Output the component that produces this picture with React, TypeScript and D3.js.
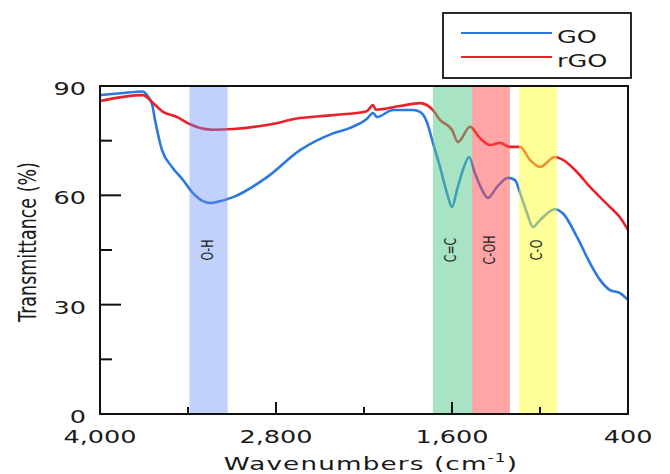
import React, { useRef, useEffect } from "react";
import * as d3 from "d3";

// wavenumber (cm-1) / transmittance (%)
const goWave = [4000, 3860, 3707, 3680, 3645, 3625, 3577, 3509, 3434, 3366, 3298, 3250, 3200, 3093, 2861, 2636, 2411, 2295, 2180, 2139, 2111, 2002, 1866, 1818, 1770, 1730, 1682, 1634, 1600, 1566, 1525, 1484, 1443, 1395, 1355, 1293, 1218, 1170, 1136, 1089, 1048, 1000, 898, 843, 748, 659, 591, 523, 455, 400];
const goT = [87.5, 88.0, 88.5, 87.5, 85, 80.7, 72.4, 67.8, 64.2, 60.6, 58.4, 57.9, 58.2, 59.5, 65, 72.4, 77, 78.5, 81, 82.6, 81.5, 83.4, 83.4, 82.9, 80, 74.4, 67.8, 60.6, 56.8, 61.5, 67, 70.5, 66, 61.5, 59.3, 62.3, 64.8, 64.2, 60.6, 55.2, 51.3, 53.2, 56.2, 55, 48.6, 41.4, 36.8, 34, 33.2, 31.3];

const rgoWave = [4000, 3707, 3645, 3570, 3475, 3386, 3300, 3230, 3093, 2861, 2636, 2411, 2180, 2139, 2120, 1955, 1818, 1730, 1682, 1600, 1559, 1477, 1409, 1341, 1273, 1205, 1136, 1068, 1000, 898, 843, 748, 659, 591, 523, 455, 400];
const rgoT = [85.9, 87.5, 85.6, 82.9, 81.5, 79.5, 78.3, 78, 78.2, 79.3, 81.2, 82, 83.1, 84.8, 83.5, 84.5, 85.3, 83.4, 80.7, 78, 74.6, 78.8, 75.7, 73.8, 74.4, 73.3, 73.3, 69.7, 67.8, 70.5, 69.7, 66.4, 62.3, 59.5, 56.8, 54, 50.5];

// highlighted absorption bands
const bandNames = ["O-H", "C=C", "C-OH", "C-O"];
const bandFrom = [3390, 1730, 1464, 1143];
const bandTo = [3130, 1464, 1205, 884];
const bandColors = ["rgb(100,140,245)", "rgb(81,201,137)", "rgb(255,75,75)", "rgb(255,255,51)"];

const xMajor = [4000, 2800, 1600, 400];
const xMinor = [3400, 2200, 1000];
const yMajor = [0, 30, 60, 90];
const yMinor = [15, 45, 75];

const seriesNames = ["GO", "rGO"];
const seriesColors = ["#2b78e0", "#e8212b"];

const SX = 1.42; // the picture is stretched sideways
const FONT = "DejaVu Sans, Verdana, sans-serif";

const App = () => {
  const svgRef = useRef<SVGSVGElement>(null);

  const width = 670;
  const height = 474;
  const left = 100;
  const right = 628;
  const top = 86;
  const bottom = 414;

  useEffect(() => {
    const svg = d3.select(svgRef.current);
    svg.selectAll("*").remove();

    const x = d3.scaleLinear().domain([4000, 400]).range([left, right]);
    const y = d3.scaleLinear().domain([0, 90]).range([bottom, top]);

    const line = d3.line<[number, number]>()
      .x(d => x(d[0]))
      .y(d => y(d[1]))
      .curve(d3.curveMonotoneX);

    const goData: [number, number][] = goWave.map((w, i) => [w, goT[i]]);
    const rgoData: [number, number][] = rgoWave.map((w, i) => [w, rgoT[i]]);

    const plot = svg.append("g");

    [goData, rgoData].forEach((d, i) => {
      plot.append("path")
        .attr("d", line(d))
        .attr("fill", "none")
        .attr("stroke", seriesColors[i])
        .attr("stroke-width", 2.6)
        .attr("stroke-linejoin", "round");
    });

    // bands on top, semi transparent
    bandNames.forEach((name, i) => {
      const x0 = x(bandFrom[i]);
      const x1 = x(bandTo[i]);
      plot.append("rect")
        .attr("x", x0)
        .attr("y", top)
        .attr("width", x1 - x0)
        .attr("height", bottom - top)
        .attr("fill", bandColors[i])
        .attr("opacity", 0.4 + (i > 0 ? 0.1 : 0));
      const cx = (x0 + x1) / 2 + 4;
      plot.append("text")
        .attr("transform", `translate(${cx},250) rotate(-90) scale(1,${SX})`)
        .attr("text-anchor", "middle")
        .attr("font-family", FONT)
        .attr("font-size", 11)
        .attr("fill", "#222")
        .text(name);
    });

    // frame
    svg.append("rect")
      .attr("x", left)
      .attr("y", top)
      .attr("width", right - left)
      .attr("height", bottom - top)
      .attr("fill", "none")
      .attr("stroke", "#111")
      .attr("stroke-width", 2);

    const ticks = svg.append("g").attr("stroke", "#111").attr("stroke-width", 2);
    xMajor.slice(1, -1).forEach(v => {
      ticks.append("line").attr("x1", x(v)).attr("x2", x(v)).attr("y1", bottom).attr("y2", bottom - 12);
    });
    xMinor.forEach(v => {
      ticks.append("line").attr("x1", x(v)).attr("x2", x(v)).attr("y1", bottom).attr("y2", bottom - 7);
    });
    yMajor.slice(1, -1).forEach(v => {
      ticks.append("line").attr("x1", left).attr("x2", left + 21).attr("y1", y(v)).attr("y2", y(v));
    });
    yMinor.forEach(v => {
      ticks.append("line").attr("x1", left).attr("x2", left + 12).attr("y1", y(v)).attr("y2", y(v));
    });

    const fmt = d3.format(",");
    const labels = svg.append("g")
      .attr("font-family", FONT)
      .attr("font-size", 18)
      .attr("fill", "#1a1a1a");

    xMajor.forEach(v => {
      labels.append("text")
        .attr("transform", `translate(${x(v)},443) scale(${SX},1)`)
        .attr("text-anchor", "middle")
        .text(fmt(v));
    });
    yMajor.forEach(v => {
      labels.append("text")
        .attr("transform", `translate(86,${y(v) + 9}) scale(${SX},1)`)
        .attr("text-anchor", "end")
        .text(v);
    });

    // axis titles
    const xt = labels.append("text")
      .attr("transform", `translate(371,470) scale(${SX},1)`)
      .attr("text-anchor", "middle")
      .attr("font-size", 18.5)
      .attr("letter-spacing", 0.8);
    xt.append("tspan").text("Wavenumbers (cm");
    xt.append("tspan").attr("font-size", 12).attr("dy", -8).text("-1");
    xt.append("tspan").attr("dy", 8).text(")");

    labels.append("text")
      .attr("transform", `translate(36,242) rotate(-90) scale(1,${SX})`)
      .attr("text-anchor", "middle")
      .attr("font-size", 17.5)
      .text("Transmittance (%)");

    // legend
    const legend = svg.append("g");
    legend.append("rect")
      .attr("x", 443)
      .attr("y", 13)
      .attr("width", 188)
      .attr("height", 65)
      .attr("fill", "#fff")
      .attr("stroke", "#111")
      .attr("stroke-width", 1.8);
    seriesNames.forEach((name, i) => {
      const ly = 33 + i * 24;
      legend.append("line")
        .attr("x1", 461)
        .attr("x2", 552)
        .attr("y1", ly)
        .attr("y2", ly)
        .attr("stroke", seriesColors[i])
        .attr("stroke-width", 2);
      legend.append("text")
        .attr("transform", `translate(557,${ly + 10}) scale(${SX},1)`)
        .attr("font-family", FONT)
        .attr("font-size", 18)
        .attr("fill", "#1a1a1a")
        .text(name);
    });
  }, []);

  return (
    <svg
      ref={svgRef}
      width={width}
      height={height}
      style={{ position: "absolute", left: 0, top: 0, background: "#fff" }}
    />
  );
};

export default App;
